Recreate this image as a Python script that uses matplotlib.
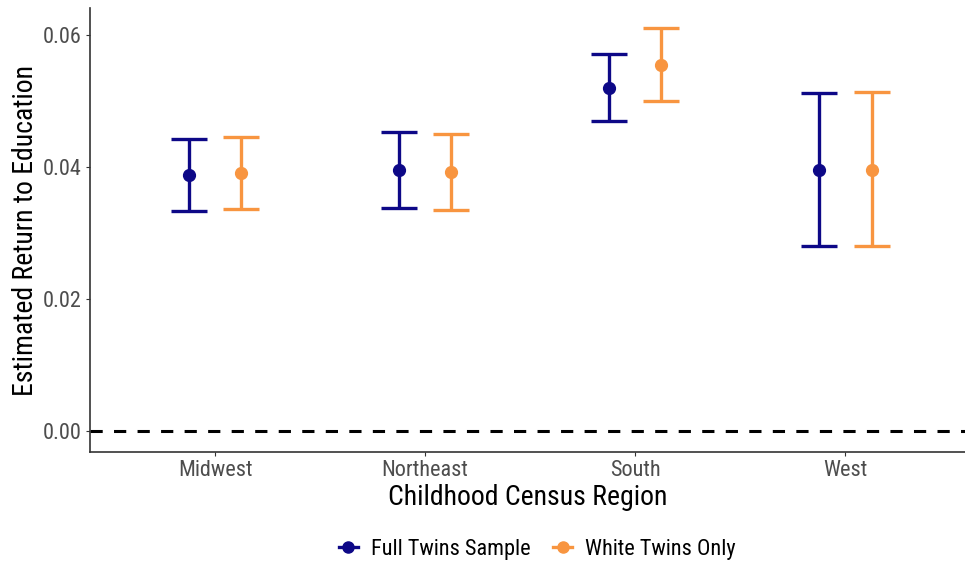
import numpy as np
import matplotlib
matplotlib.use('Agg')
import matplotlib.pyplot as plt
from matplotlib.lines import Line2D

plt.rcParams['font.family'] = ['Roboto Condensed', 'Roboto', 'DejaVu Sans']

# data
regions = ['Midwest', 'Northeast', 'South', 'West']
full_est = [0.0388, 0.0395, 0.0520, 0.0395]
full_lo = [0.0333, 0.0338, 0.0470, 0.0280]
full_hi = [0.0442, 0.0453, 0.0571, 0.0512]
white_est = [0.0391, 0.0392, 0.0555, 0.0395]
white_lo = [0.0336, 0.0335, 0.0500, 0.0280]
white_hi = [0.0445, 0.0450, 0.0611, 0.0514]
series_names = ['Full Twins Sample', 'White Twins Only']
colors = ['#0D0887', '#F89540']
yticks = [0.00, 0.02, 0.04, 0.06]

fig = plt.figure(figsize=(9.65, 5.63), dpi=100)
ax = fig.add_axes([90 / 965, 1 - 452 / 563, 875 / 965, 444 / 563])

x = np.arange(1, len(regions) + 1)
dodge = 0.125
series = [(full_est, full_lo, full_hi), (white_est, white_lo, white_hi)]
for i, (est, lo, hi) in enumerate(series):
    est = np.array(est)
    err = np.array([est - np.array(lo), np.array(hi) - est])
    xs = x + (i * 2 - 1) * dodge
    ax.errorbar(xs, est, yerr=err, fmt='o', color=colors[i], ms=8.5,
                elinewidth=2.4, capsize=13, capthick=2.4, zorder=3)

ax.axhline(0, color='black', lw=2.2, dashes=(4, 3.7), zorder=2)

ax.set_xlim(0.405, 4.57)
ax.set_ylim(-0.0032, 0.0641)
ax.set_xticks(x)
ax.set_xticklabels(regions)
ax.set_yticks(yticks)
ax.set_yticklabels(['%.2f' % v for v in yticks])
ax.tick_params(labelsize=16, colors='#333333', labelcolor='#4D4D4D', length=3, width=0.8, pad=3)

for s in ['top', 'right']:
    ax.spines[s].set_visible(False)
for s in ['left', 'bottom']:
    ax.spines[s].set_linewidth(1.2)
    ax.spines[s].set_color('#333333')

ax.set_xlabel('Childhood Census Region', fontsize=20, labelpad=2)
ax.set_ylabel('Estimated Return to Education', fontsize=20, labelpad=3)

handles = [Line2D([], [], color=c, marker='o', ms=8, lw=2.4) for c in colors]
fig.legend(handles, series_names, loc='center', bbox_to_anchor=(0.557, 1 - 549 / 563),
           ncol=2, frameon=False, fontsize=16, handlelength=0.85, columnspacing=1.0,
           handletextpad=0.6)

plt.savefig('out.png', dpi=100)
